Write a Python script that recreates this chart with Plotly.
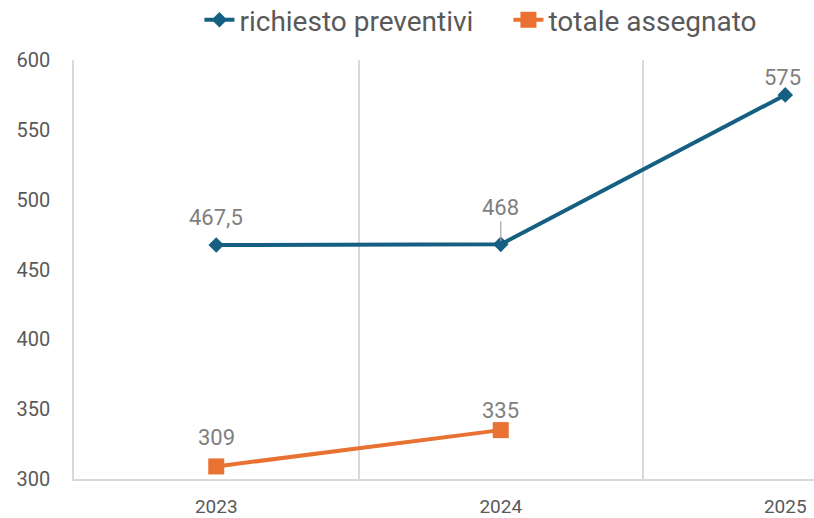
"""Line chart: richiesto preventivi vs totale assegnato."""

import plotly.graph_objects as go

years = ["2023", "2024", "2025"]
richiesto = [467.5, 468, 575]
assegnato = [309, 335, None]

BLUE = "#156082"
ORANGE = "#E97132"
GRID = "#D9D9D9"
LABEL_GRAY = "#7F7F7F"
TEXT_GRAY = "#595959"


def fmt(value: float) -> str:
    """Italian number format for the data labels."""
    return f"{value:g}".replace(".", ",")


fig = go.Figure()
fig.add_trace(
    go.Scatter(
        x=years,
        y=richiesto,
        name="richiesto preventivi",
        mode="lines+markers",
        line={"color": BLUE, "width": 4},
        marker={"symbol": "diamond", "size": 12, "color": BLUE},
    )
)
fig.add_trace(
    go.Scatter(
        x=years,
        y=assegnato,
        name="totale assegnato",
        mode="lines+markers",
        line={"color": ORANGE, "width": 4},
        marker={"symbol": "square", "size": 16, "color": ORANGE},
    )
)

# data labels, shifted like in the excel chart
label_font = {"size": 22, "color": LABEL_GRAY, "family": "Roboto"}
blue_shift = [28, 37, 17]
orange_shift = [29, 20]
for i, value in enumerate(richiesto):
    if i == 1:
        # this one has a leader line
        fig.add_annotation(
            x=i, y=value, text=fmt(value), showarrow=True, arrowhead=0,
            arrowwidth=1.2, arrowcolor="#A6A6A6", ax=0, ay=-blue_shift[i],
            standoff=3, font=label_font,
        )
    else:
        fig.add_annotation(
            x=i, y=value, text=fmt(value), showarrow=False,
            yshift=blue_shift[i], xshift=-3 if i == 2 else 0, font=label_font,
        )
for i, value in enumerate(assegnato):
    if value is None:
        continue
    fig.add_annotation(
        x=i, y=value, text=fmt(value), showarrow=False,
        yshift=orange_shift[i], font=label_font,
    )

fig.update_layout(
    width=814,
    height=518,
    margin={"l": 74, "r": 0, "t": 60, "b": 39, "autoexpand": False},
    plot_bgcolor="white",
    paper_bgcolor="white",
    font={"family": "Roboto", "color": TEXT_GRAY},
    showlegend=True,
    legend={
        "orientation": "h",
        "xref": "container",
        "yref": "paper",
        "x": 0.245,
        "y": 1.155,
        "xanchor": "left",
        "yanchor": "top",
        "font": {"size": 28, "family": "Roboto", "color": TEXT_GRAY},
        "itemwidth": 30,
        "entrywidth": 264,
    },
)
fig.update_xaxes(
    type="category",
    range=[-0.5, 2.101],
    tickson="boundaries",
    showgrid=True,
    gridcolor=GRID,
    gridwidth=1.5,
    showline=True,
    linecolor=GRID,
    linewidth=1.5,
    ticks="",
    ticklabelstandoff=9,
    tickfont={"size": 19, "color": TEXT_GRAY},
    fixedrange=True,
    automargin=False,
)
fig.update_yaxes(
    range=[300, 600],
    dtick=50,
    showgrid=False,
    zeroline=False,
    showline=True,
    linecolor=GRID,
    linewidth=1.5,
    ticks="",
    ticklabelstandoff=18,
    tickfont={"size": 20, "color": TEXT_GRAY},
    automargin=False,
)

fig.write_html(
    "out.html",
    config={"displayModeBar": False},
    post_script="document.body.style.margin = '0px';",
)
